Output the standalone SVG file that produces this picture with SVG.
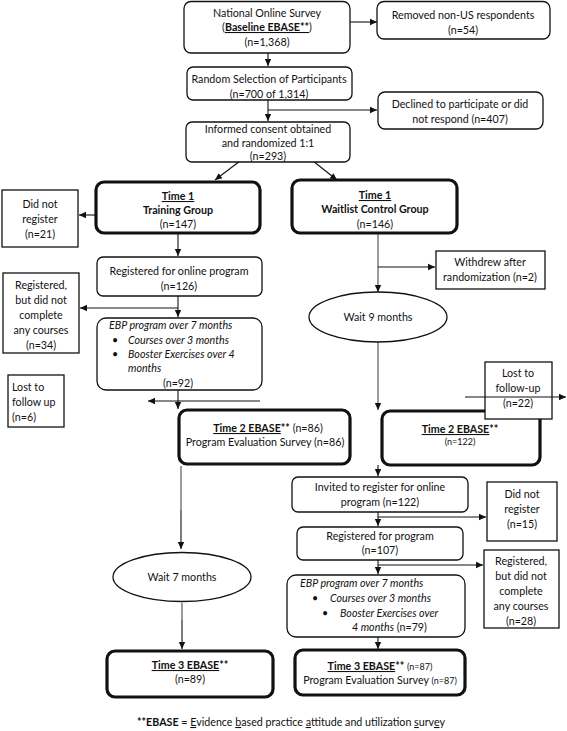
<svg xmlns="http://www.w3.org/2000/svg" width="567" height="731" viewBox="0 0 567 731">
<style>
text{font-family:Lato,"Open Sans","Liberation Sans",sans-serif;font-size:10.7px;fill:#111;text-anchor:middle}
.b{font-weight:bold}
.i{font-style:italic}
.u{text-decoration:underline}
.s{font-size:9px}
.l{text-anchor:start}
.box{fill:#fff;stroke:#111;stroke-width:1.3}
.thick{fill:#fff;stroke:#111;stroke-width:3.2}
.c{fill:none;stroke:#111;stroke-width:1.1}
.g{fill:none;stroke:#666;stroke-width:1.3}
</style>
<defs>
<marker id="a" markerWidth="8" markerHeight="8" refX="7" refY="4" orient="auto" markerUnits="userSpaceOnUse">
<path d="M0,0.8 L7,4 L0,7.2 Z" fill="#111"/>
</marker>
</defs>
<rect width="567" height="731" fill="#fff"/>
<g id="connectors">
<line class="c" x1="268" y1="53" x2="268" y2="66" marker-end="url(#a)"/>
<line class="c" x1="350" y1="22" x2="377" y2="22" marker-end="url(#a)"/>
<line class="c" x1="268" y1="100" x2="268" y2="121" marker-end="url(#a)"/>
<line class="c" x1="268" y1="110" x2="377" y2="110" marker-end="url(#a)"/>
<line class="c" x1="240" y1="161" x2="215" y2="180" marker-end="url(#a)"/>
<line class="c" x1="313" y1="161" x2="337" y2="180" marker-end="url(#a)"/>
<line class="c" x1="96" y1="215" x2="79" y2="215" marker-end="url(#a)"/>
<line class="c" x1="178" y1="233" x2="178" y2="256" marker-end="url(#a)"/>
<line class="g" x1="378" y1="233" x2="378" y2="292" marker-end="url(#a)"/>
<line class="c" x1="378" y1="267" x2="435" y2="267" marker-end="url(#a)"/>
<line class="c" x1="178" y1="296" x2="178" y2="317" marker-end="url(#a)"/>
<line class="c" x1="178" y1="308" x2="80" y2="308" marker-end="url(#a)"/>
<line class="c" x1="178" y1="390" x2="178" y2="409" marker-end="url(#a)"/>
<line class="c" x1="260" y1="401" x2="148" y2="401" marker-end="url(#a)"/>
<line class="g" x1="378" y1="342" x2="378" y2="410" marker-end="url(#a)"/>
<line class="g" x1="181" y1="466" x2="181" y2="510"/>
<line class="c" x1="181" y1="510" x2="181" y2="549" marker-end="url(#a)"/>
<line class="g" x1="182" y1="603" x2="182" y2="620"/>
<line class="c" x1="182" y1="620" x2="182" y2="649" marker-end="url(#a)"/>
<line class="c" x1="378" y1="465" x2="378" y2="476" marker-end="url(#a)"/>
<line class="c" x1="378" y1="512" x2="378" y2="526" marker-end="url(#a)"/>
<line class="c" x1="378" y1="517" x2="486" y2="517" marker-end="url(#a)"/>
<line class="c" x1="378" y1="560" x2="378" y2="574" marker-end="url(#a)"/>
<line class="c" x1="378" y1="565" x2="483" y2="565" marker-end="url(#a)"/>
<line class="c" x1="378" y1="637" x2="378" y2="649" marker-end="url(#a)"/>
</g>
<g id="national-survey">
<rect class="box" x="184" y="1.5" width="166" height="51.5" rx="7"/>
<text x="267" y="17">National Online Survey</text>
<text x="267" y="31">(<tspan class="b u">Baseline EBASE**</tspan>)</text>
<text x="267" y="46">(n=1,368)</text>
</g>
<g id="removed">
<rect class="box" x="377" y="1.5" width="173" height="37.5" rx="7"/>
<text x="463" y="19">Removed non-US respondents</text>
<text x="463" y="34">(n=54)</text>
</g>
<g id="random-selection">
<rect class="box" x="187" y="67" width="165" height="33" rx="6"/>
<text x="269" y="83">Random Selection of Participants</text>
<text x="269" y="98">(n=700 of 1,314)</text>
</g>
<g id="declined">
<rect class="box" x="378" y="92" width="165" height="37" rx="7"/>
<text x="460" y="108">Declined to participate or did</text>
<text x="460" y="123">not respond (n=407)</text>
</g>
<g id="informed-consent">
<rect class="box" x="186" y="122" width="164" height="40" rx="6"/>
<text x="268" y="133">Informed consent obtained</text>
<text x="268" y="147">and randomized 1:1</text>
<text x="268" y="160">(n=293)</text>
</g>
<g id="training-group">
<rect class="thick" x="96" y="182" width="164" height="51" rx="8"/>
<text x="178" y="200" class="b u">Time 1</text>
<text x="178" y="214" class="b">Training Group</text>
<text x="178" y="228">(n=147)</text>
</g>
<g id="did-not-register-1">
<rect class="box" x="2" y="190" width="76" height="57"/>
<text x="40" y="208">Did not</text>
<text x="40" y="223">register</text>
<text x="40" y="238">(n=21)</text>
</g>
<g id="waitlist-group">
<rect class="thick" x="292" y="180" width="165" height="53" rx="8"/>
<text x="375" y="199" class="b u">Time 1</text>
<text x="375" y="213" class="b">Waitlist Control Group</text>
<text x="375" y="228">(n=146)</text>
</g>
<g id="withdrew">
<rect class="box" x="436" y="251" width="109" height="38"/>
<text x="490" y="266">Withdrew after</text>
<text x="490" y="281">randomization (n=2)</text>
</g>
<g id="registered-online">
<rect class="box" x="97" y="257" width="165" height="39" rx="6"/>
<text x="179" y="275">Registered for online program</text>
<text x="179" y="290">(n=126)</text>
</g>
<g id="registered-no-course-1">
<rect class="box" x="3" y="273" width="76" height="80"/>
<text x="41" y="289">Registered,</text>
<text x="41" y="304">but did not</text>
<text x="41" y="319">complete</text>
<text x="41" y="334">any courses</text>
<text x="41" y="349">(n=34)</text>
</g>
<g id="wait-9">
<ellipse class="box" cx="378" cy="317" rx="69" ry="25"/>
<text x="378" y="321">Wait 9 months</text>
</g>
<g id="ebp-program-1">
<rect class="box" x="97" y="318" width="165" height="72" rx="9"/>
<text class="i l" x="109" y="329">EBP program over 7 months</text>
<text class="l" x="112" y="344">•</text>
<text class="i l" x="128" y="344">Courses over 3 months</text>
<text class="l" x="112" y="358">•</text>
<text class="i l" x="128" y="358">Booster Exercises over 4</text>
<text class="i l" x="128" y="372">months</text>
<text x="178" y="387">(n=92)</text>
</g>
<g id="lost-1">
<rect class="box" x="8" y="375" width="56" height="52"/>
<text class="l" x="12" y="391">Lost to</text>
<text class="l" x="12" y="406">follow up</text>
<text class="l" x="12" y="421">(n=6)</text>
</g>
<g id="time2-training">
<rect class="thick" x="179" y="410" width="171" height="54" rx="8"/>
<text x="268" y="432"><tspan class="b u">Time 2 EBASE</tspan><tspan class="b">**</tspan> (n=86)</text>
<text x="265" y="446">Program Evaluation Survey (n=86)</text>
</g>
<g id="time2-waitlist">
<rect class="thick" x="382" y="411" width="158" height="54" rx="8"/>
<text x="460" y="433"><tspan class="b u">Time 2 EBASE</tspan><tspan class="b">**</tspan></text>
<text x="460" y="445" class="s">(n=122)</text>
</g>
<g id="lost-2">
<rect class="box" x="485" y="362" width="67" height="57"/>
<text x="518" y="377">Lost to</text>
<text x="518" y="392">follow-up</text>
<text x="518" y="407">(n=22)</text>
<line class="c" x1="465" y1="397" x2="566" y2="397" marker-end="url(#a)"/>
</g>
<g id="invited">
<rect class="box" x="292" y="477" width="176" height="35" rx="6"/>
<text x="380" y="491">Invited to register for online</text>
<text x="380" y="506">program (n=122)</text>
</g>
<g id="did-not-register-2">
<rect class="box" x="487" y="482" width="70" height="59"/>
<text x="522" y="498">Did not</text>
<text x="522" y="513">register</text>
<text x="522" y="528">(n=15)</text>
</g>
<g id="registered-program">
<rect class="box" x="297" y="527" width="166" height="33" rx="6"/>
<text x="380" y="540">Registered for program</text>
<text x="380" y="554">(n=107)</text>
</g>
<g id="registered-no-course-2">
<rect class="box" x="484" y="550" width="75" height="78"/>
<text x="521" y="565">Registered,</text>
<text x="521" y="580">but did not</text>
<text x="521" y="595">complete</text>
<text x="521" y="610">any courses</text>
<text x="521" y="625">(n=28)</text>
</g>
<g id="wait-7">
<ellipse class="box" cx="182" cy="577" rx="69" ry="24.5"/>
<text x="182" y="581">Wait 7 months</text>
</g>
<g id="ebp-program-2">
<rect class="box" x="287" y="575" width="178" height="62" rx="9"/>
<text class="i l" x="300" y="587">EBP program over 7 months</text>
<text class="l" x="312" y="602">•</text>
<text class="i l" x="330" y="602">Courses over 3 months</text>
<text class="l" x="322" y="617">•</text>
<text class="i l" x="340" y="617">Booster Exercises over</text>
<text class="l" x="352" y="631"><tspan class="i">4 months</tspan>  (n=79)</text>
</g>
<g id="time3-training">
<rect class="thick" x="107" y="651" width="166" height="46" rx="8"/>
<text x="190" y="669"><tspan class="b u">Time 3 EBASE</tspan><tspan class="b">**</tspan></text>
<text x="190" y="683">(n=89)</text>
</g>
<g id="time3-waitlist">
<rect class="thick" x="295" y="650" width="170" height="45" rx="8"/>
<text x="380" y="670"><tspan class="b u">Time 3 EBASE</tspan><tspan class="b">**</tspan> <tspan class="s">(n=87)</tspan></text>
<text x="380" y="684">Program Evaluation Survey <tspan class="s">(n=87)</tspan></text>
</g>
<g id="footnote">
<text x="291" y="726"><tspan class="b">**EBASE</tspan> = <tspan class="u">E</tspan>vidence <tspan class="u">b</tspan>ased practice <tspan class="u">a</tspan>ttitude and utilization <tspan class="u">s</tspan>urv<tspan class="u">e</tspan>y</text>
</g>
</svg>
